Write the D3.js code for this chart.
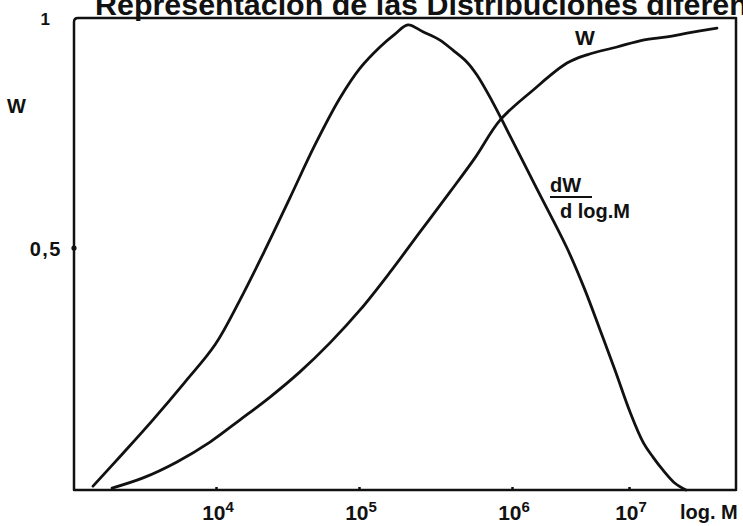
<!DOCTYPE html>
<html>
<head>
<meta charset="utf-8">
<script src="https://cdn.jsdelivr.net/npm/d3@7"></script>
<style>
  html, body { margin: 0; padding: 0; background: #fff; }
  svg { display: block; }
  text { font-family: "Liberation Sans", Arial, sans-serif; font-weight: bold; fill: #111; }
</style>
</head>
<body>
<svg id="chart" width="743" height="526"></svg>
<script>
// Differential distribution dW/d logM (log10 of M and relative height)
const dWLogM = [3.140, 3.350, 3.559, 3.783, 3.993, 4.168, 4.343, 4.517, 4.692, 4.867,
                5.007, 5.137, 5.235, 5.320, 5.418, 5.529, 5.614, 5.706, 5.771, 5.869,
                5.967, 6.214, 6.470, 6.624, 6.752, 6.880, 7.009, 7.120, 7.205, 7.291,
                7.393, 7.487];
const dWValues = [0.008, 0.076, 0.145, 0.223, 0.300, 0.393, 0.496, 0.609, 0.724, 0.826,
                  0.891, 0.937, 0.965, 0.985, 0.970, 0.952, 0.930, 0.904, 0.876, 0.820,
                  0.757, 0.628, 0.500, 0.413, 0.331, 0.248, 0.161, 0.099, 0.068, 0.041,
                  0.014, 0.000];

// Cumulative distribution W
const wLogM = [3.273, 3.490, 3.727, 3.958, 4.168, 4.378, 4.587, 4.797, 5.007, 5.203,
               5.399, 5.595, 5.758, 5.922, 6.179, 6.470, 6.641, 6.897, 7.120, 7.325,
               7.496, 7.752];
const wValues = [0.004, 0.025, 0.058, 0.099, 0.145, 0.192, 0.244, 0.304, 0.372, 0.450,
                 0.535, 0.622, 0.696, 0.778, 0.843, 0.902, 0.920, 0.937, 0.952, 0.959,
                 0.967, 0.978];

// Axis ticks
const decades = [4, 5, 6, 7];
const yTicks = [0.5, 1];
const yTickLabels = ["0,5", "1"];

const titleText = "Representación de las Distribuciones diferenciales";

const svg = d3.select("#chart");

// Hand-drawn decades are unevenly spaced, so the log axis is piecewise linear
const x = d3.scaleLinear().domain(decades).range([216, 359, 512, 629]);
const y = d3.scaleLinear().domain([0, 0.5, 1]).range([490, 248, 18]);

const frameL = 74, frameR = 736, frameT = y(1), frameB = y(0);

// Title, set wide in a heavy face; it runs off the right edge
const title = svg.append("text")
  .style("font-size", "29px")
  .text("Representación de las Distribuciones");
const stretch = 543 / title.node().getComputedTextLength();
title.text(titleText)
  .attr("transform", `translate(95,15) scale(${stretch},1)`);

// Frame with a slightly rounded upper-left corner
svg.append("path")
  .attr("d", `M${frameL},${frameB} L${frameL},${frameT + 4} Q${frameL},${frameT} ${frameL + 4},${frameT} L${frameR},${frameT} L${frameR},${frameB} Z`)
  .attr("fill", "none")
  .attr("stroke", "#111")
  .attr("stroke-width", 2.5)
  .attr("stroke-linejoin", "round");

// Bottom axis tick marks
svg.append("g")
  .attr("transform", `translate(0,${frameB})`)
  .call(d3.axisBottom(x).tickValues(decades).tickSize(-3).tickFormat(""))
  .call(g => g.select(".domain").remove())
  .call(g => g.selectAll("line").attr("stroke", "#111").attr("stroke-width", 2.5));

// Decade labels 10^n
const xl = svg.append("g");
decades.forEach(d => {
  const t = xl.append("text")
    .attr("x", x(d) + 2).attr("y", 520)
    .attr("text-anchor", "middle")
    .style("font-size", "21px");
  t.append("tspan").text("10");
  t.append("tspan").attr("dy", -8).style("font-size", "15px").text(d);
});

svg.append("text")
  .attr("x", 680).attr("y", 519)
  .style("font-size", "20px")
  .text("log. M");

// Left axis: dot tick at 0,5 and labels
svg.selectAll("circle.ytick")
  .data(yTicks.filter(v => v < 1))
  .join("circle")
  .attr("class", "ytick")
  .attr("cx", frameL).attr("cy", d => y(d)).attr("r", 2.6)
  .attr("fill", "#111");

svg.selectAll("text.ylab")
  .data(yTicks)
  .join("text")
  .attr("class", "ylab")
  .attr("x", d => d === 1 ? frameL - 24 : frameL - 12)
  .attr("y", d => y(d) + (d === 1 ? 7 : 8))
  .attr("text-anchor", "end")
  .style("font-size", d => d === 1 ? "17px" : "20px")
  .style("letter-spacing", d => d === 1 ? "0px" : "1.5px")
  .text((d, i) => yTickLabels[i]);

svg.append("text")
  .attr("x", 7).attr("y", 113)
  .style("font-size", "20px")
  .text("W");

// Curves
const line = d3.line()
  .x(d => x(d[0]))
  .y(d => y(d[1]))
  .curve(d3.curveCatmullRom.alpha(0.5));

svg.append("path")
  .datum(d3.zip(dWLogM, dWValues))
  .attr("d", line)
  .attr("fill", "none")
  .attr("stroke", "#111")
  .attr("stroke-width", 2.8)
  .attr("stroke-linecap", "round");

svg.append("path")
  .datum(d3.zip(wLogM, wValues))
  .attr("d", line)
  .attr("fill", "none")
  .attr("stroke", "#111")
  .attr("stroke-width", 2.8)
  .attr("stroke-linecap", "round");

// Curve labels
svg.append("text")
  .attr("x", 575).attr("y", 45)
  .style("font-size", "21px")
  .text("W");

svg.append("text")
  .attr("x", 550).attr("y", 192)
  .style("font-size", "20px")
  .text("dW");
svg.append("line")
  .attr("x1", 550).attr("x2", 592)
  .attr("y1", 197).attr("y2", 197)
  .attr("stroke", "#111").attr("stroke-width", 2);
svg.append("text")
  .attr("x", 560).attr("y", 218)
  .style("font-size", "20px")
  .text("d log.M");
</script>
</body>
</html>
